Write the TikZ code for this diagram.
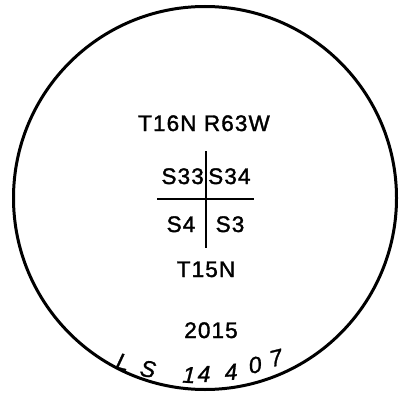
\documentclass[tikz,border=0pt]{standalone}
\usepackage{fontspec}
\setmainfont{Liberation Sans}
\newfontfamily\plotfont[LetterSpace=5,FakeBold=1.6]{Liberation Sans}
\newfontfamily\handfont[FakeBold=1.2]{Liberation Sans}
\begin{document}
\begin{tikzpicture}[x=1pt,y=-1pt,
  lbl/.style={inner sep=0pt,font=\plotfont\fontsize{22.5}{22.5}\selectfont},
  hand/.style={inner sep=0pt,font=\handfont\itshape\fontsize{23}{23}\selectfont},
  rim/.style={line width=3pt},
  grid/.style={line width=2.3pt}]
\useasboundingbox (0,0) rectangle (409,393);
\node[draw,rim,circle,minimum size=383pt,inner sep=0pt] (rimc) at (205,198) {};
\node[lbl,anchor=base] (twp) at (204,131) {T16N R63W};
\node[lbl,anchor=base east] (s33) at (204,184) {S33};
\node[lbl,anchor=base west] (s34) at (208,184) {S34};
\node[lbl,anchor=base] (s4) at (181,232) {S4};
\node[lbl,anchor=base] (s3) at (230,232) {S3};
\node[lbl,anchor=base] (t15) at (206,277) {T15N};
\node[lbl,anchor=base] (yr) at (211,338) {2015};
\coordinate (vt) at (206,151);
\coordinate (vb) at (206,248);
\coordinate (hl) at (157,199);
\coordinate (hr) at (254,199);
\draw[line width=2pt] (vt) -- (vb);
\draw[line width=2.6pt] (hl) -- (hr);
\node[hand,rotate=-14] (hL) at (123,362) {L};
\node[hand,rotate=-10] (hS) at (148,369) {S};
\node[hand,rotate=-3] (h1) at (189,375) {1};
\node[hand,rotate=0] (h4a) at (204,374) {4};
\node[hand,rotate=4] (h4b) at (231,372) {4};
\node[hand,rotate=9] (h0) at (255,365) {0};
\node[hand,rotate=14] (h7) at (276,358) {7};
\end{tikzpicture}
\end{document}
